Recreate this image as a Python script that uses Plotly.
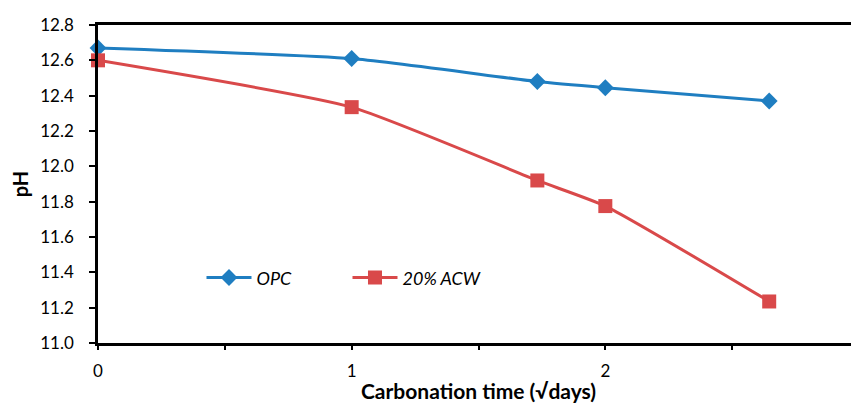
import plotly.graph_objects as go

x_vals = [0, 1, 1.732, 2, 2.646]
opc = [12.67, 12.61, 12.48, 12.445, 12.37]
acw = [12.60, 12.335, 11.92, 11.775, 11.235]
series_names = ["OPC", "20% ACW"]

BLUE = "#1f7ec1"
RED = "#d9494a"
FONT = "Lato"

fig = go.Figure()
fig.add_trace(go.Scatter(
    x=x_vals, y=opc, name=series_names[0], mode="lines+markers",
    line=dict(color=BLUE, width=3, shape="spline", smoothing=0.5),
    marker=dict(symbol="diamond", size=13, color=BLUE),
    cliponaxis=False,
))
fig.add_trace(go.Scatter(
    x=x_vals, y=acw, name=series_names[1], mode="lines+markers",
    line=dict(color=RED, width=3, shape="spline", smoothing=0.5),
    marker=dict(symbol="square", size=14, color=RED),
    cliponaxis=False,
))

fig.update_layout(
    width=851, height=395,
    margin=dict(l=90, r=0, t=17, b=60, autoexpand=False),
    paper_bgcolor="white", plot_bgcolor="white",
    font=dict(family=FONT, size=17, color="black"),
    showlegend=True,
    legend=dict(
        orientation="h", x=0.136, y=0.205, xanchor="left", yanchor="middle",
        font=dict(family=FONT, size=18, style="italic"),
        bgcolor="rgba(0,0,0,0)", itemwidth=45,
        entrywidthmode="pixels", entrywidth=86,
    ),
    xaxis=dict(
        range=[0, 3], tickvals=[0, 1, 2, 3], ticktext=["0", "1", "2", "3"],
        showgrid=False, zeroline=False, automargin=False,
        showline=True, linecolor="black", linewidth=2.5, mirror=True,
        ticks="outside", ticklen=4, tickwidth=2, tickcolor="black",
        minor=dict(tickvals=[0.5, 1.5, 2.5], ticks="outside", ticklen=4, tickwidth=2, tickcolor="black"),
        tickfont=dict(family=FONT, size=17), ticklabelstandoff=7,
        title=dict(text="<b>Carbonation time (√days)</b>", font=dict(family=FONT, size=21), standoff=6),
    ),
    yaxis=dict(
        range=[11.0, 12.8], dtick=0.2, tickformat=".1f",
        showgrid=False, zeroline=False, automargin=False,
        showline=True, linecolor="black", linewidth=2.5, mirror=False,
        ticks="outside", ticklen=6, tickwidth=2, tickcolor="black",
        tickfont=dict(family=FONT, size=17), ticklabelstandoff=12,
        title=dict(text="<b>pH</b>", font=dict(family=FONT, size=20), standoff=10),
    ),
)

fig.write_html("out.html")
